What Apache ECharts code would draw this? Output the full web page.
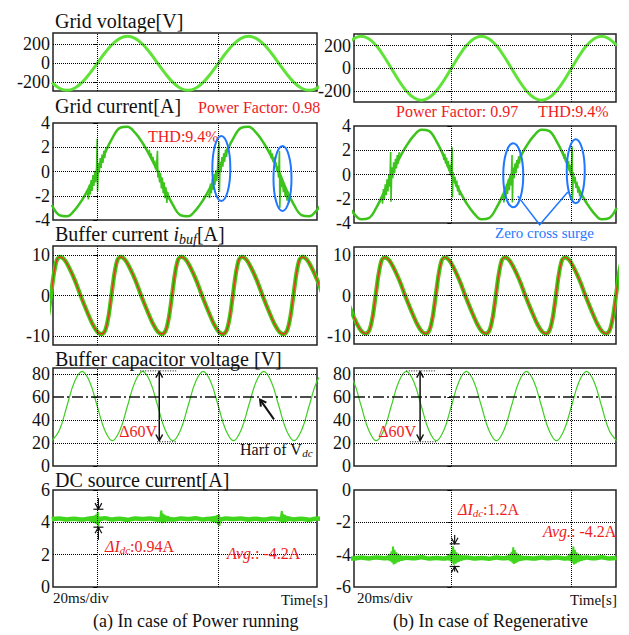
<!DOCTYPE html>
<html>
<head>
<meta charset="utf-8">
<script src="https://cdn.jsdelivr.net/npm/echarts@6/dist/echarts.min.js"></script>
<style>
  html, body { margin: 0; background: #fff; }
  #chart { width: 629px; height: 635px; }
</style>
</head>
<body>
<div id="chart"></div>
<script>
// sample times [ms], 20 ms/div, t = 0 on the first dotted vertical line
const tA = [-7.5,-6.25,-5,-3.75,-2.5,-1.25,0,1.25,2.5,3.75,5,6.25,7.5,8.75,10,11.25,12.5,13.75,15,16.25,17.5,18.75,20,21.25,22.5,23.75,25,26.25,27.5,28.75,30,31.25,32.5,33.75,35,36.25,37.5];
const tB = [-17.5,-16.25,-15,-13.75,-12.5,-11.25,-10,-8.75,-7.5,-6.25,-5,-3.75,-2.5,-1.25,0,1.25,2.5,3.75,5,6.25,7.5,8.75,10,11.25,12.5,13.75,15,16.25,17.5,18.75,20,21.25,22.5,23.75,25,26.25,27.5];

// (a) power running
const vGridA = [-200,-261,-283,-261,-200,-108,0,108, 200,261,283,261,200,108,0,-108, -200,-261,-283,-261,-200,-108,0,108, 200,261,283,261,200,108,0,-108, -200,-261,-283,-261,-200];
const iGridA = [-2.75,-3.6,-3.7,-3.2,-2.35,-1.25,0,1.5, 2.75,3.6,3.7,3.2,2.35,1.25,0,-1.5, -2.75,-3.6,-3.7,-3.2,-2.35,-1.25,0,1.5, 2.75,3.6,3.7,3.2,2.35,1.25,0,-1.5, -2.75,-3.6,-3.7,-3.2,-2.35];
const surgeA0 = [[-1.6,-1.7],[-1.45,-2.3],[-1.3,-1.1],[-1.15,-1.9],[-1.0,-0.7],[-0.85,-1.6],[-0.7,-0.3],[-0.55,-1.2],[-0.4,0.0],[-0.25,-0.9],[-0.1,0.4],[0.0,2.7],[0.06,-1.6],[0.2,0.7],[0.35,-0.1],[0.5,1.1],[0.65,0.3],[0.8,1.4],[0.95,0.7],[1.1,1.7],[1.25,1.1],[1.4,1.9],[1.6,1.8]];
const surgeA1 = [[8.6,1.8],[8.75,1.2],[8.9,1.5],[9.05,0.9],[9.2,1.2],[9.35,0.6],[9.5,0.9],[9.65,0.2],[9.8,0.5],[9.95,1.7],[10.02,-0.5],[10.15,0.1],[10.3,-0.9],[10.45,-0.1],[10.6,-1.4],[10.75,-0.5],[10.9,-1.8],[11.05,-0.9],[11.2,-2.2],[11.35,-1.3],[11.5,-2.6],[11.65,-1.7],[11.8,-2.3]];
const surgeA2 = [[18.4,-1.8],[18.55,-2.2],[18.7,-1.0],[18.85,-1.8],[19.0,-0.6],[19.15,-1.5],[19.3,-0.2],[19.45,-1.1],[19.6,0.1],[19.75,-0.8],[19.9,0.5],[20.1,2.5],[20.18,-1.7],[20.3,0.8],[20.45,0.0],[20.6,1.2],[20.75,0.4],[20.9,1.5],[21.05,0.8],[21.2,1.8],[21.35,1.2],[21.5,2.0],[21.7,1.9]];
const surgeA3 = [[28.6,1.8],[28.75,1.1],[28.9,1.5],[29.05,0.8],[29.2,1.2],[29.35,0.5],[29.5,0.8],[29.65,0.0],[29.8,0.4],[29.95,-0.5],[30.1,1.7],[30.16,-3.0],[30.3,-0.4],[30.45,-1.3],[30.6,-0.7],[30.75,-1.7],[30.9,-1.1],[31.05,-2.1],[31.2,-1.5],[31.35,-2.4],[31.5,-1.9],[31.65,-2.6],[31.8,-2.3]];
const tBufA = [-9.25,-8.65,-8.15,-7.65,-7.15,-6.65,
  -6.15,-5.45,-4.65,-3.65,-2.75,-1.75,-0.75,0.05,0.75,1.35,1.85,2.35,2.85,3.35,
  3.85,4.55,5.35,6.35,7.25,8.25,9.25,10.05,10.75,11.35,11.85,12.35,12.85,13.35,
  13.9,14.6,15.4,16.4,17.3,18.3,19.3,20.1,20.8,21.4,21.9,22.4,22.9,23.4,
  23.9,24.6,25.4,26.4,27.3,28.3,29.3,30.1,30.8,31.4,31.9,32.4,32.9,33.4,
  33.9,34.6,35.4,36.4,37.3];
const iBufA = [-9.5,-8.5,-5.3,0,5.4,8.8,
  9.5,8.9,6.9,3.6,0,-3.7,-7.1,-9.0,-9.5,-8.5,-5.3,0,5.4,8.8,
  9.5,8.9,6.9,3.6,0,-3.7,-7.1,-9.0,-9.5,-8.5,-5.3,0,5.4,8.8,
  9.5,8.9,6.9,3.6,0,-3.7,-7.1,-9.0,-9.5,-8.5,-5.3,0,5.4,8.8,
  9.5,8.9,6.9,3.6,0,-3.7,-7.1,-9.0,-9.5,-8.5,-5.3,0,5.4,8.8,
  9.5,8.9,6.9,3.6,0];
const vCapA = [22,31,52,73,82,73,52,31, 22,31,52,73,82,73,52,31, 22,31,52,73,82,73,52,31, 22,31,52,73,82,73,52,31, 22,31,52,73,82];
const iDcA = [4.2,4.24,4.18,4.22,4.17,4.23,4.2,4.25, 4.18,4.22,4.16,4.23,4.2,4.24,4.18,4.22, 4.17,4.23,4.2,4.25,4.18,4.22,4.16,4.23, 4.2,4.24,4.18,4.22,4.17,4.23,4.2,4.25, 4.18,4.22,4.16,4.23,4.2];
const dcA0 = [[-2.0,4.25],[-1.85,4.12],[-1.7,4.3],[-1.55,4.1],[-1.4,4.32],[-1.25,4.07],[-1.1,4.35],[-0.95,4.03],[-0.8,4.38],[-0.65,4.0],[-0.5,4.42],[-0.35,3.95],[-0.2,4.48],[-0.1,3.88],[0.1,4.65],[0.18,3.78],[0.3,4.35],[0.45,4.05],[0.6,4.28],[0.75,4.12],[0.9,4.24],[1.1,4.18]];
const dcA1 = [[9.8,4.22],[10.0,4.12],[10.2,4.3],[10.35,4.05],[10.5,4.5],[10.6,4.73],[10.68,3.95],[10.8,4.55],[10.95,3.98],[11.1,4.48],[11.25,4.02],[11.4,4.42],[11.55,4.06],[11.7,4.38],[11.85,4.1],[12.0,4.33],[12.2,4.13],[12.4,4.28],[12.6,4.16],[12.8,4.24]];
const dcA2 = [[18.0,4.25],[18.15,4.12],[18.3,4.3],[18.45,4.1],[18.6,4.32],[18.75,4.07],[18.9,4.35],[19.05,4.03],[19.2,4.38],[19.35,4.0],[19.5,4.4],[19.65,3.95],[19.8,4.45],[19.95,3.86],[20.1,4.5],[20.18,3.78],[20.3,4.33],[20.45,4.06],[20.6,4.27],[20.75,4.12],[20.9,4.24],[21.1,4.18]];
const dcA3 = [[29.7,4.22],[29.9,4.12],[30.1,4.3],[30.25,4.05],[30.4,4.48],[30.5,4.7],[30.58,3.97],[30.7,4.52],[30.85,4.0],[31.0,4.46],[31.15,4.03],[31.3,4.4],[31.45,4.07],[31.6,4.36],[31.75,4.1],[31.9,4.32],[32.1,4.13],[32.3,4.27],[32.5,4.16],[32.7,4.23]];

// (b) regenerative
const vGridB = [200,261,283,261,200,108,0,-108, -200,-261,-283,-261,-200,-108,0,108, 200,261,283,261,200,108,0,-108, -200,-261,-283,-261,-200,-108,0,108, 200,261,283,261,200];
const iGridB = [-2.35,-3.2,-3.7,-3.6,-2.75,-1.5,0,1.25, 2.35,3.2,3.7,3.6,2.75,1.5,0,-1.25, -2.35,-3.2,-3.7,-3.6,-2.75,-1.5,0,1.25, 2.35,3.2,3.7,3.6,2.75,1.5,0,-1.25, -2.35,-3.2,-3.7,-3.6,-2.75];
const surgeB0 = [[-11.6,-1.8],[-11.45,-2.4],[-11.3,-1.2],[-11.15,-2.1],[-11.0,-0.8],[-10.85,-1.7],[-10.7,-0.4],[-10.55,-1.4],[-10.4,0.0],[-10.25,-1.0],[-10.1,1.85],[-10.04,-2.25],[-9.9,0.6],[-9.75,-0.3],[-9.6,1.0],[-9.45,0.1],[-9.3,1.3],[-9.15,0.5],[-9.0,1.6],[-8.85,0.9],[-8.7,1.8],[-8.5,1.7]];
const surgeB1 = [[-1.4,1.8],[-1.25,1.2],[-1.1,1.7],[-0.95,0.9],[-0.8,1.4],[-0.65,0.6],[-0.5,1.1],[-0.35,0.3],[-0.2,0.8],[-0.05,0.0],[0.12,2.25],[0.18,-1.9],[0.3,0.2],[0.45,-0.6],[0.6,-0.2],[0.75,-1.0],[0.9,-0.5],[1.05,-1.4],[1.2,-0.9],[1.35,-1.7],[1.5,-1.5]];
const surgeB2 = [[8.6,-1.7],[8.75,-2.3],[8.9,-1.1],[9.05,-2.0],[9.2,-0.8],[9.35,-1.6],[9.5,-0.4],[9.65,-1.3],[9.8,0.0],[9.95,-0.9],[10.1,1.6],[10.16,-2.3],[10.3,0.5],[10.45,-0.3],[10.6,0.9],[10.75,0.1],[10.9,1.2],[11.05,0.5],[11.2,1.5],[11.35,0.9],[11.5,1.7],[11.7,1.6]];
const surgeB3 = [[18.6,1.9],[18.75,1.3],[18.9,1.7],[19.05,1.0],[19.2,1.4],[19.35,0.6],[19.5,1.1],[19.65,0.3],[19.8,0.8],[19.95,-0.1],[20.1,2.3],[20.16,-2.2],[20.3,0.2],[20.45,-0.6],[20.6,-0.2],[20.75,-1.1],[20.9,-0.6],[21.05,-1.5],[21.2,-1.0],[21.35,-1.8],[21.5,-1.6]];
const tBufB = [-18.6,-17.7,-16.7,-15.7,-14.9,-14.2,-13.6,-13.1,-12.6,-12.1,-11.6,
  -11.1,-10.4,-9.6,-8.6,-7.7,-6.7,-5.7,-4.9,-4.2,-3.6,-3.1,-2.6,-2.1,-1.6,
  -1.1,-0.4,0.4,1.4,2.3,3.3,4.3,5.1,5.8,6.4,6.9,7.4,7.9,8.4,
  8.9,9.6,10.4,11.4,12.3,13.3,14.3,15.1,15.8,16.4,16.9,17.4,17.9,18.4,
  18.9,19.6,20.4,21.4,22.3,23.3,24.3,25.1,25.8,26.4,26.9,27.4,27.9,28.4,28.9];
const iBufB = [3.6,0,-3.7,-7.1,-9.0,-9.5,-8.5,-5.3,0,5.4,8.8,
  9.5,8.9,6.9,3.6,0,-3.7,-7.1,-9.0,-9.5,-8.5,-5.3,0,5.4,8.8,
  9.5,8.9,6.9,3.6,0,-3.7,-7.1,-9.0,-9.5,-8.5,-5.3,0,5.4,8.8,
  9.5,8.9,6.9,3.6,0,-3.7,-7.1,-9.0,-9.5,-8.5,-5.3,0,5.4,8.8,
  9.5,8.9,6.9,3.6,0,-3.7,-7.1,-9.0,-9.5,-8.5,-5.3,0,5.4,8.8,
  9.5];
const vCapB = [82,73,52,31,22,31,52,73, 82,73,52,31,22,31,52,73, 82,73,52,31,22,31,52,73, 82,73,52,31,22,31,52,73, 82,73,52,31,22];
const iDcB = [-4.2,-4.24,-4.18,-4.23,-4.17,-4.22,-4.2,-4.25, -4.19,-4.22,-4.16,-4.23,-4.2,-4.24,-4.18,-4.22, -4.17,-4.23,-4.2,-4.25,-4.18,-4.22,-4.16,-4.23, -4.2,-4.24,-4.18,-4.22,-4.17,-4.23,-4.2,-4.25, -4.18,-4.22,-4.16,-4.23,-4.2];
const dcB0 = [[-10.9,-4.15],[-10.7,-4.3],[-10.55,-4.05],[-10.4,-4.35],[-10.25,-3.95],[-10.1,-4.42],[-9.95,-3.8],[-9.82,-4.5],[-9.7,-3.5],[-9.6,-4.6],[-9.45,-3.7],[-9.3,-4.55],[-9.15,-3.85],[-9.0,-4.48],[-8.85,-3.95],[-8.7,-4.42],[-8.5,-4.02],[-8.3,-4.38],[-8.1,-4.08],[-7.9,-4.32],[-7.7,-4.12],[-7.4,-4.25]];
const dcB1 = [[-0.9,-4.15],[-0.7,-4.3],[-0.55,-4.05],[-0.4,-4.35],[-0.25,-3.95],[-0.1,-4.42],[0.05,-3.8],[0.18,-4.5],[0.3,-3.48],[0.4,-4.62],[0.55,-3.7],[0.7,-4.55],[0.85,-3.85],[1.0,-4.48],[1.15,-3.95],[1.3,-4.42],[1.5,-4.02],[1.7,-4.38],[1.9,-4.08],[2.1,-4.32],[2.3,-4.12],[2.6,-4.25]];
const dcB2 = [[9.1,-4.15],[9.3,-4.3],[9.45,-4.05],[9.6,-4.35],[9.75,-3.95],[9.9,-4.42],[10.05,-3.82],[10.18,-4.5],[10.3,-3.55],[10.4,-4.58],[10.55,-3.72],[10.7,-4.52],[10.85,-3.87],[11.0,-4.46],[11.15,-3.96],[11.3,-4.4],[11.5,-4.03],[11.7,-4.36],[11.9,-4.09],[12.1,-4.31],[12.3,-4.13],[12.6,-4.25]];
const dcB3 = [[19.1,-4.15],[19.3,-4.3],[19.45,-4.05],[19.6,-4.35],[19.75,-3.95],[19.9,-4.42],[20.05,-3.8],[20.18,-4.5],[20.3,-3.5],[20.4,-4.6],[20.55,-3.7],[20.7,-4.55],[20.85,-3.85],[21.0,-4.48],[21.15,-3.95],[21.3,-4.42],[21.5,-4.02],[21.7,-4.38],[21.9,-4.08],[22.1,-4.32],[22.3,-4.12],[22.6,-4.25]];

// axis ticks
const ticksV = [-200, 0, 200];
const ticksI = [-4, -2, 0, 2, 4];
const ticksBuf = [-10, 0, 10];
const ticksCap = [0, 20, 40, 60, 80];
const ticksDcA = [0, 2, 4, 6];
const ticksDcB = [-6, -4, -2, 0];
const divLines = [0, 20];

const FONT = '"Liberation Serif", "Times New Roman", serif';
const GREEN_V = '#5fe336';
const GREEN_I = '#3cc41c';
const GREEN_B = '#3ccd12';
const GREEN_DC = '#3fd61c';
const RED = '#ee1c1c';
const BLUE = '#1f78ff';

const LX = [-7.3, 36.3], RX = [-16.2, 27.4];
const panels = [
  { rect: [53, 33, 264, 58], x: LX, y: [-290, 318], ticks: ticksV, grid: ticksV },
  { rect: [53, 123, 264, 97], x: LX, y: [-4, 4], ticks: ticksI, grid: [-2, 0, 2] },
  { rect: [53, 246, 264, 99], x: LX, y: [-12.2, 12.2], ticks: ticksBuf, grid: ticksBuf },
  { rect: [53, 368, 264, 98], x: LX, y: [0, 85], ticks: ticksCap, grid: [20, 40, 80] },
  { rect: [53, 490, 264, 97], x: LX, y: [0, 6], ticks: ticksDcA, grid: [2, 4] },
  { rect: [354, 34, 262, 68], x: RX, y: [-298, 302], ticks: ticksV, grid: ticksV },
  { rect: [354, 126, 262, 97], x: RX, y: [-4, 4], ticks: ticksI, grid: [-2, 0, 2] },
  { rect: [354, 247, 262, 97], x: RX, y: [-12.1, 12.1], ticks: ticksBuf, grid: ticksBuf },
  { rect: [354, 368, 262, 98], x: RX, y: [0, 85], ticks: ticksCap, grid: [20, 40, 80] },
  { rect: [354, 490, 262, 97], x: RX, y: [-6, 0], ticks: ticksDcB, grid: [-4, -2] }
];

function zip(t, v) {
  const n = Math.min(t.length, v.length);
  const out = [];
  for (let i = 0; i < n; i++) out.push([t[i], v[i]]);
  return out;
}

function line(g, data, color, width, extra) {
  return Object.assign({
    type: 'line', xAxisIndex: g, yAxisIndex: g, data: data,
    symbol: 'none', showSymbol: false, smooth: 0.4, silent: true, z: 3,
    lineStyle: { color: color, width: width }
  }, extra || {});
}

function gridLines(g, ys) {
  return {
    type: 'line', xAxisIndex: g, yAxisIndex: g, data: [], silent: true, z: 1,
    markLine: {
      silent: true, symbol: 'none', animation: false, label: { show: false },
      lineStyle: { color: '#000', type: 'dotted', width: 1 },
      data: divLines.map(function (v) { return { xAxis: v }; })
        .concat(ys.map(function (v) { return { yAxis: v }; }))
    }
  };
}

function halfVdc(g) {
  return {
    type: 'line', xAxisIndex: g, yAxisIndex: g, data: [], silent: true, z: 2,
    markLine: {
      silent: true, symbol: 'none', animation: false, label: { show: false },
      lineStyle: { color: '#111', type: [11, 3, 2, 3], width: 1.5 },
      data: [{ yAxis: 60 }]
    }
  };
}

const grids = [], xAxes = [], yAxes = [];
panels.forEach(function (p, i) {
  grids.push({ left: p.rect[0], top: p.rect[1], width: p.rect[2], height: p.rect[3],
    show: true, borderColor: '#222', borderWidth: 1.5, backgroundColor: 'transparent' });
  xAxes.push({ type: 'value', gridIndex: i, min: p.x[0], max: p.x[1], show: false });
  yAxes.push({
    type: 'value', gridIndex: i, min: p.y[0], max: p.y[1],
    axisLine: { show: false }, splitLine: { show: false },
    axisTick: { show: true, customValues: p.ticks, length: 4, lineStyle: { color: '#000', width: 1 } },
    axisLabel: { customValues: p.ticks, fontFamily: FONT, fontSize: 18, color: '#111', margin: 3 }
  });
});

const flat = { smooth: false };
const series = [];
panels.forEach(function (p, i) { series.push(gridLines(i, p.grid)); });
series.push(halfVdc(3), halfVdc(8));

// (a)
series.push(line(0, zip(tA, vGridA), GREEN_V, 3));
series.push(line(1, zip(tA, iGridA), GREEN_I, 2.5));
[surgeA0, surgeA1, surgeA2, surgeA3].forEach(function (s) { series.push(line(1, s, GREEN_I, 1.6, flat)); });
series.push(line(2, zip(tBufA, iBufA), GREEN_B, 4.2, { smooth: 0.3 }));
series.push(line(2, zip(tBufA, iBufA), '#e3391f', 1.4, { smooth: 0.3, z: 4 }));
series.push(line(3, zip(tA, vCapA), '#3fcf22', 1.2));
series.push(line(4, zip(tA, iDcA), GREEN_DC, 4.5));
[dcA0, dcA1, dcA2, dcA3].forEach(function (s) { series.push(line(4, s, GREEN_DC, 2, flat)); });

// (b)
series.push(line(5, zip(tB, vGridB), GREEN_V, 3));
series.push(line(6, zip(tB, iGridB), GREEN_I, 2.5));
[surgeB0, surgeB1, surgeB2, surgeB3].forEach(function (s) { series.push(line(6, s, GREEN_I, 1.6, flat)); });
series.push(line(7, zip(tBufB, iBufB), GREEN_B, 4.2, { smooth: 0.3 }));
series.push(line(7, zip(tBufB, iBufB), '#e3391f', 1.4, { smooth: 0.3, z: 4 }));
series.push(line(8, zip(tB, vCapB), '#3fcf22', 1.2));
series.push(line(9, zip(tB, iDcB), GREEN_DC, 4.5));
[dcB0, dcB1, dcB2, dcB3].forEach(function (s) { series.push(line(9, s, GREEN_DC, 2, flat)); });

const chart = echarts.init(document.getElementById('chart'), null, { renderer: 'svg' });
chart.setOption({
  animation: false,
  backgroundColor: '#fff',
  textStyle: { fontFamily: FONT },
  grid: grids, xAxis: xAxes, yAxis: yAxes, series: series
});

// ---- annotations ----
const G = [];
function P(g, t, v) { return chart.convertToPixel({ gridIndex: g }, [t, v]); }
function text(x, y, str, size, color, opts) {
  opts = opts || {};
  G.push({ type: 'text', x: x, y: y, z: 100, silent: true,
    style: Object.assign({ text: str, fill: color, fontFamily: FONT, fontSize: size,
      align: 'left', verticalAlign: 'middle' }, opts) });
}
function poly(points, color, width, dash) {
  G.push({ type: 'polyline', z: 100, silent: true, shape: { points: points },
    style: { stroke: color, lineWidth: width, fill: 'none', lineDash: dash || null } });
}
function chevron(tip, ang, color, width) {
  const L = 7, a = 0.5;
  poly([[tip[0] - L * Math.cos(ang - a), tip[1] - L * Math.sin(ang - a)], tip,
        [tip[0] - L * Math.cos(ang + a), tip[1] - L * Math.sin(ang + a)]], color, width || 1.5);
}
function ellipse(c, rx, ry) {
  G.push({ type: 'ellipse', z: 100, silent: true, shape: { cx: c[0], cy: c[1], rx: rx, ry: ry },
    style: { stroke: BLUE, lineWidth: 2, fill: 'none' } });
}
function rich(size, color, subPad) {
  return {
    n: { fontSize: size, fontFamily: FONT, fill: color },
    i: { fontSize: size, fontFamily: FONT, fontStyle: 'italic', fill: color },
    s: { fontSize: Math.round(size * 0.68), fontFamily: FONT, fontStyle: 'italic', fill: color, padding: [subPad, 0, 0, 0] }
  };
}

// titles
text(55, 20.5, 'Grid voltage[V]', 20, '#111');
text(55, 106, 'Grid current[A]', 20, '#111');
text(55, 234, '{n|Buffer current }{i|i}{s|buf}{n|[A]}', 20, '#111', { rich: rich(20, '#111', 11) });
text(55, 358.5, 'Buffer capacitor voltage [V]', 20, '#111');
text(55, 480, 'DC source current[A]', 20, '#111');

// red / blue notes
text(198, 107.5, 'Power Factor: 0.98', 16, RED);
text(148, 136, 'THD:9.4%', 16, RED);
text(396, 111.5, 'Power Factor: 0.97', 16, RED);
text(538, 111.5, 'THD:9.4%', 16, RED);
text(495, 232.5, 'Zero cross surge', 15, BLUE);

// ellipses and pointer lines (grid current)
ellipse(P(1, 20.5, 0.25), 9, 32.5);
ellipse(P(1, 30.6, -0.58), 9, 32.5);
ellipse(P(6, 10.3, -0.06), 10, 32);
ellipse(P(6, 20.7, 0.27), 9, 32);
poly([P(6, 11.05, -1.78), P(6, 14.7, -4.15), P(6, 19.38, -1.45)], BLUE, 1.5);

// buffer capacitor: ripple arrows
function ripple(g, t, tTop, tBot) {
  const a = P(g, t, 82), b = P(g, t, 22);
  poly([a, b], '#111', 1.5);
  chevron(a, -Math.PI / 2, '#111');
  chevron(b, Math.PI / 2, '#111');
  poly([P(g, tTop[0], 82.5), P(g, tTop[1], 82.5)], '#111', 1, [1, 1.5]);
  poly([P(g, tBot[0], 21), P(g, tBot[1], 21)], '#111', 1, [1, 1.5]);
}
ripple(3, 10.25, [7.1, 13.2], [9.9, 13.1]);
ripple(8, -5.2, [-7.5, -2.5], [-6.9, -2.3]);
text(157, 431.5, '\u039460V', 16, RED, { align: 'right' });
text(416, 431, '\u039460V', 16, RED, { align: 'right' });
(function () {
  const tip = P(3, 26.9, 57.6), tail = P(3, 29.2, 40.5);
  poly([tail, tip], '#111', 2);
  chevron(tip, Math.atan2(tip[1] - tail[1], tip[0] - tail[0]), '#111', 2);
})();
text(240, 449, '{n|Harf of V}{s|dc}', 16, '#111', { rich: rich(16, '#111', 8) });

// dc source current: ripple markers
function dcMarks(g, t, top, head, low, tail) {
  const h = P(g, t, head), l = P(g, t, low);
  poly([P(g, t, top), h], '#111', 1.2);
  chevron(h, Math.PI / 2, '#111', 1.2);
  poly([[h[0] - 5, h[1]], [h[0] + 5, h[1]]], '#111', 1.2);
  poly([P(g, t, tail), l], '#111', 1.2);
  chevron(l, -Math.PI / 2, '#111', 1.2);
  poly([[l[0] - 5, l[1]], [l[0] + 5, l[1]]], '#111', 1.2);
}
dcMarks(4, 0.2, 5.5, 4.81, 3.7, 2.92);
dcMarks(9, 0.55, -2.78, -3.33, -4.73, -5.04);
text(105, 546, '{i|\u0394I}{s|dc}{n|:0.94A}', 16, RED, { rich: rich(16, RED, 8) });
text(227, 553, '{i|Avg.}{n|: -4.2A}', 16, RED, { rich: rich(16, RED, 0) });
text(458, 509, '{i|\u0394I}{s|dc}{n|:1.2A}', 16, RED, { rich: rich(16, RED, 8) });
text(543, 531.5, '{i|Avg.}{n|: -4.2A}', 16, RED, { rich: rich(16, RED, 0) });

// bottom labels
text(53, 598, '20ms/div', 15, '#111');
text(281, 600, 'Time[s]', 15, '#111');
text(357, 598, '20ms/div', 15, '#111');
text(570, 600, 'Time[s]', 15, '#111');
text(93, 621, '(a) In case of Power running', 18, '#111');
text(393, 621, '(b) In case of Regenerative', 18, '#111');

chart.setOption({ graphic: G });
</script>
</body>
</html>
